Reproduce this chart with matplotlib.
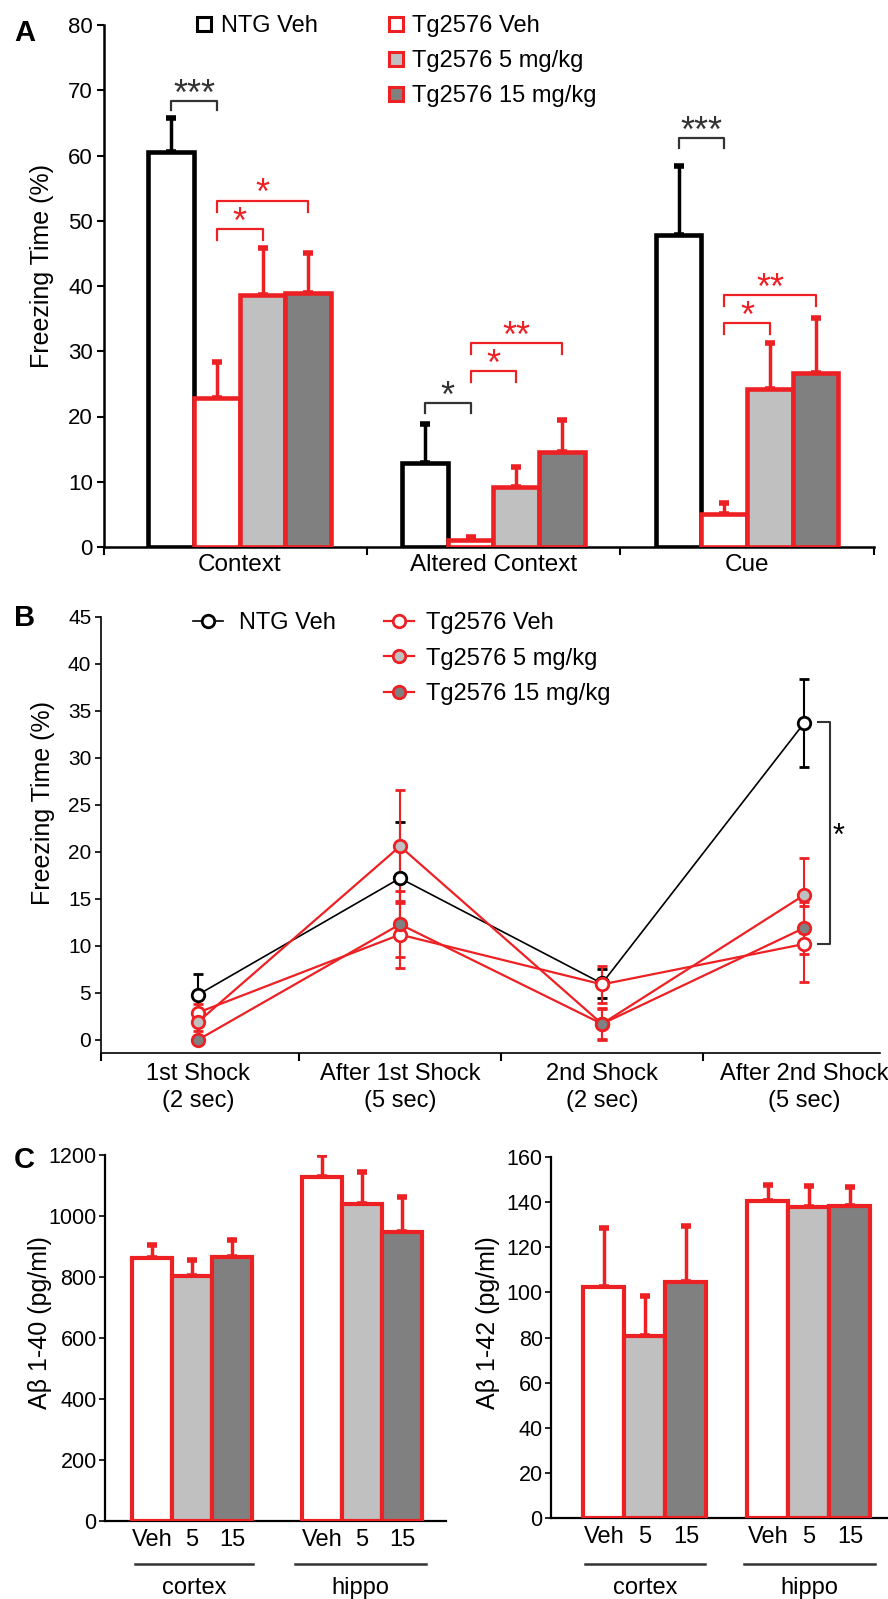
import numpy as np
import matplotlib
matplotlib.use("Agg")
import matplotlib.pyplot as plt
from matplotlib.lines import Line2D

plt.rcParams['font.family'] = ['Liberation Sans', 'DejaVu Sans']

RED = '#ED2024'
LGRAY = '#C0C0C0'
DGRAY = '#808080'

# ---- Panel A data: freezing time (%) per test, mean and upper SEM ----
tests = ["Context", "Altered Context", "Cue"]
a_ntg = [60.5, 12.9, 47.8]
a_ntg_err = [5.3, 5.9, 10.6]
a_veh = [22.8, 1.1, 5.1]
a_veh_err = [5.6, 0.5, 1.7]
a_mg5 = [38.6, 9.2, 24.2]
a_mg5_err = [7.2, 3.1, 7.0]
a_mg15 = [39.0, 14.6, 26.6]
a_mg15_err = [6.0, 4.8, 8.5]
# significance: (test, bar i, bar j, bracket top, leg end, stars, colour)
a_sig = [
    (0, 0, 1, 68.4, 66.9, '***', 'black'),
    (0, 1, 2, 48.8, 47.1, '*', RED),
    (0, 1, 3, 53.1, 51.4, '*', RED),
    (1, 0, 1, 22.1, 20.5, '*', 'black'),
    (1, 1, 2, 26.9, 25.3, '*', RED),
    (1, 1, 3, 31.2, 29.6, '**', RED),
    (2, 0, 1, 62.7, 61.2, '***', 'black'),
    (2, 1, 2, 34.4, 32.7, '*', RED),
    (2, 1, 3, 38.6, 37.0, '**', RED),
]

# ---- Panel B data: freezing time during shocks ----
phases = ["1st Shock\n(2 sec)", "After 1st Shock\n(5 sec)",
          "2nd Shock\n(2 sec)", "After 2nd Shock\n(5 sec)"]
b_ntg = [4.8, 17.2, 6.0, 33.7]
b_ntg_err = [2.2, 6.0, 1.5, 4.7]
b_veh = [2.9, 11.2, 5.9, 10.2]
b_veh_err = [0.9, 3.6, 2.0, 4.0]
b_mg5 = [1.9, 20.6, 1.7, 15.4]
b_mg5_err = [1.0, 6.0, 1.6, 4.0]
b_mg15 = [0.0, 12.3, 1.7, 11.9]
b_mg15_err = [0.3, 3.5, 1.7, 2.8]

# ---- Panel C data: Abeta levels ----
regions = ["cortex", "hippo"]
doses = ["Veh", "5", "15"]
c40_veh = [862, 1128]
c40_veh_err = [43, 72]
c40_mg5 = [803, 1039]
c40_mg5_err = [53, 105]
c40_mg15 = [866, 948]
c40_mg15_err = [55, 114]
c42_veh = [102.4, 140.5]
c42_veh_err = [26, 7]
c42_mg5 = [80.5, 138.0]
c42_mg5_err = [18, 9]
c42_mg15 = [104.5, 138.5]
c42_mg15_err = [25, 8]

W, H = 888, 1599
fig = plt.figure(figsize=(W / 100, H / 100), dpi=100)


def fx(px):
    return px / W


def fy(py):
    return 1 - py / H


def axes_px(left, top, right, bottom):
    return fig.add_axes([left / W, 1 - bottom / H, (right - left) / W, (bottom - top) / H])


def clean(ax, lw):
    ax.spines['top'].set_visible(False)
    ax.spines['right'].set_visible(False)
    ax.spines['left'].set_linewidth(lw)
    ax.spines['bottom'].set_linewidth(lw)


# ================= Panel A =================
axA = axes_px(104, 25, 874, 547)
wa = 0.18
offA = (np.arange(4) - 1.5) * wa
seriesA = [
    (a_ntg, a_ntg_err, 'white', 'black'),
    (a_veh, a_veh_err, 'white', RED),
    (a_mg5, a_mg5_err, LGRAY, RED),
    (a_mg15, a_mg15_err, DGRAY, RED),
]
xg = np.arange(len(tests))
for i, (vals, errs, fc, ec) in enumerate(seriesA):
    x = xg + offA[i]
    axA.bar(x, vals, wa, color=fc, edgecolor=ec, linewidth=3.3, zorder=3)
    axA.errorbar(x, vals, yerr=[np.zeros(len(vals)), errs], fmt='none', ecolor=ec,
                 elinewidth=2.5, capsize=3.5, capthick=4, zorder=2)

for g, i, j, top, leg, txt, col in a_sig:
    x1, x2 = g + offA[i], g + offA[j]
    bc = '#333333' if col == 'black' else col
    axA.plot([x1, x1, x2, x2], [leg, top, top, leg], color=bc, lw=1.6)
    axA.text((x1 + x2) / 2, top - 0.6, txt, color=bc, fontsize=26,
             ha='center', va='baseline')

axA.set_xlim(-0.535, 2.5)
axA.set_ylim(0, 80)
clean(axA, 1.8)
axA.set_yticks(range(0, 81, 10))
axA.tick_params(axis='y', direction='out', length=5, width=1.5, labelsize=16, pad=3)
axA.set_xticks(xg)
axA.set_xticklabels(tests)
axA.tick_params(axis='x', which='major', length=0, labelsize=17.5, pad=5)
axA.set_xticks([-0.535, 0.5, 1.5, 2.5], minor=True)
axA.tick_params(axis='x', which='minor', direction='out', length=6, width=1.5)
axA.set_ylabel('Freezing Time (%)', fontsize=18)
axA.yaxis.set_label_coords((42 - 104) / 770, (547 - 266) / 522)
axA.yaxis.label.set_va('center')

hA1 = [Line2D([], [], ls='none', marker='s', ms=10, mfc='white', mec='black', mew=2.2)]
hA2 = [Line2D([], [], ls='none', marker='s', ms=10, mfc=fc, mec=RED, mew=2.2)
       for fc in ['white', LGRAY, DGRAY]]
legA1 = axA.legend(hA1, ['NTG Veh'], loc='upper left', bbox_to_anchor=(fx(195), fy(15)),
                   bbox_transform=fig.transFigure, frameon=False, fontsize=17,
                   handlelength=0.8, handletextpad=0.32, borderpad=0, borderaxespad=0)
axA.add_artist(legA1)
axA.legend(hA2, ['Tg2576 Veh', 'Tg2576 5 mg/kg', 'Tg2576 15 mg/kg'], loc='upper left',
           bbox_to_anchor=(fx(386.5), fy(15)), bbox_transform=fig.transFigure,
           frameon=False, fontsize=17, handlelength=0.8, handletextpad=0.28,
           labelspacing=0.56, borderpad=0, borderaxespad=0)

# ================= Panel B =================
axB = axes_px(101, 617, 880, 1053)
xb = np.arange(len(phases))
seriesB = [
    (b_ntg, b_ntg_err, 'white', 'black', 1.2),
    (b_veh, b_veh_err, 'white', RED, 1.6),
    (b_mg5, b_mg5_err, LGRAY, RED, 1.6),
    (b_mg15, b_mg15_err, DGRAY, RED, 1.6),
]
for vals, errs, mfc, col, lw in seriesB:
    axB.errorbar(xb, vals, yerr=errs, color=col, lw=lw, marker='o', ms=9,
                 mfc=mfc, mec=col, mew=2, elinewidth=1.5, capsize=3.5, capthick=2.5)

axB.plot([3.069, 3.129, 3.129, 3.069], [33.8, 33.8, 10.2, 10.2], color='#333333', lw=1.5)
axB.text(3.17, 21.6, '*', fontsize=22, ha='center', va='center')

axB.set_xlim(-0.48, 3.376)
axB.set_ylim(-1.4, 45)
clean(axB, 1.2)
axB.set_yticks(range(0, 46, 5))
axB.tick_params(axis='y', direction='out', length=4, width=1.2, labelsize=15, pad=3)
axB.set_xticks(xb)
axB.set_xticklabels(phases, linespacing=1.3)
axB.tick_params(axis='x', which='major', length=0, labelsize=17, pad=7)
axB.set_xticks([-0.48, 0.5, 1.5, 2.5], minor=True)
axB.tick_params(axis='x', which='minor', direction='out', length=6, width=1.5)
axB.set_ylabel('Freezing Time (%)', fontsize=18)
axB.yaxis.set_label_coords((43 - 101) / 779, (1053 - 803) / 436)
axB.yaxis.label.set_va('center')

hB1 = [Line2D([0], [0], color='black', lw=1.2, marker='o', ms=9, mfc='white', mec='black', mew=2)]
hB2 = [Line2D([0], [0], color=RED, lw=1.6, marker='o', ms=9, mfc=fc, mec=RED, mew=2)
       for fc in ['white', LGRAY, DGRAY]]
legB1 = axB.legend(hB1, ['NTG Veh'], loc='upper left', bbox_to_anchor=(fx(193), fy(612)),
                   bbox_transform=fig.transFigure, frameon=False, fontsize=17,
                   handlelength=1.27, handletextpad=0.68, borderpad=0, borderaxespad=0)
axB.add_artist(legB1)
axB.legend(hB2, ['Tg2576 Veh', 'Tg2576 5 mg/kg', 'Tg2576 15 mg/kg'], loc='upper left',
           bbox_to_anchor=(fx(384), fy(612)), bbox_transform=fig.transFigure,
           frameon=False, fontsize=17, handlelength=1.27, handletextpad=0.5,
           labelspacing=0.58, borderpad=0, borderaxespad=0)


# ================= Panel C =================
def abeta_panel(ax, series, w, ymax, ystep, ylabel, lines, label_xy):
    xr = np.arange(len(regions))
    off = (np.arange(3) - 1) * w
    pos, labs = [], []
    for i, (vals, errs, fc) in enumerate(series):
        x = xr + off[i]
        ax.bar(x, vals, w, color=fc, edgecolor=RED, linewidth=3, zorder=3)
        ax.errorbar(x, vals, yerr=[np.zeros(len(vals)), errs], fmt='none', ecolor=RED,
                    elinewidth=2.5, capsize=3.5, capthick=4, zorder=2)
    for g in xr:
        for i in range(3):
            pos.append(g + off[i])
            labs.append(doses[i])
    ax.set_ylim(0, ymax)
    clean(ax, 1.6)
    ax.set_yticks(np.arange(0, ymax + 1, ystep))
    ax.tick_params(axis='y', direction='out', length=4, width=1.2, labelsize=15.5, pad=2)
    ax.set_xticks(pos)
    ax.set_xticklabels(labs)
    ax.tick_params(axis='x', length=0, labelsize=17, pad=6)
    tr = ax.get_xaxis_transform()
    for (x0, x1, yl, yt), name in zip(lines, regions):
        ax.plot([x0, x1], [yl, yl], color='#333333', lw=1.8, transform=tr, clip_on=False)
        ax.text((x0 + x1) / 2, yt, name, transform=tr, fontsize=17, ha='center', va='center')
    ax.set_ylabel(ylabel, fontsize=18)
    ax.yaxis.set_label_coords(*label_xy)
    ax.yaxis.label.set_va('center')


axC1 = axes_px(105, 1155, 446, 1521)
axC1.set_xlim(-0.512, 1.494)
abeta_panel(axC1,
            [(c40_veh, c40_veh_err, 'white'), (c40_mg5, c40_mg5_err, LGRAY),
             (c40_mg15, c40_mg15_err, DGRAY)],
            0.235, 1200, 200, 'A\u03b2 1-40 (pg/ml)',
            [(-0.335, 0.359, -0.1175, -0.183), (0.606, 1.376, -0.1175, -0.183)],
            ((40 - 105) / 341, (1521 - 1323) / 366))

axC2 = axes_px(551, 1157, 889, 1518)
axC2.set_xlim(-0.573, 1.488)
abeta_panel(axC2,
            [(c42_veh, c42_veh_err, 'white'), (c42_mg5, c42_mg5_err, LGRAY),
             (c42_mg15, c42_mg15_err, DGRAY)],
            0.25, 160, 20, 'A\u03b2 1-42 (pg/ml)',
            [(-0.366, 0.366, -0.127, -0.194), (0.604, 1.40, -0.127, -0.194)],
            ((488 - 551) / 338, (1518 - 1323) / 361))

# panel letters
for letter, base in [('A', 41), ('B', 626), ('C', 1168)]:
    fig.text(fx(14), fy(base), letter, fontsize=21, fontweight='bold', ha='left', va='baseline')

fig.savefig('out.png', dpi=100)
